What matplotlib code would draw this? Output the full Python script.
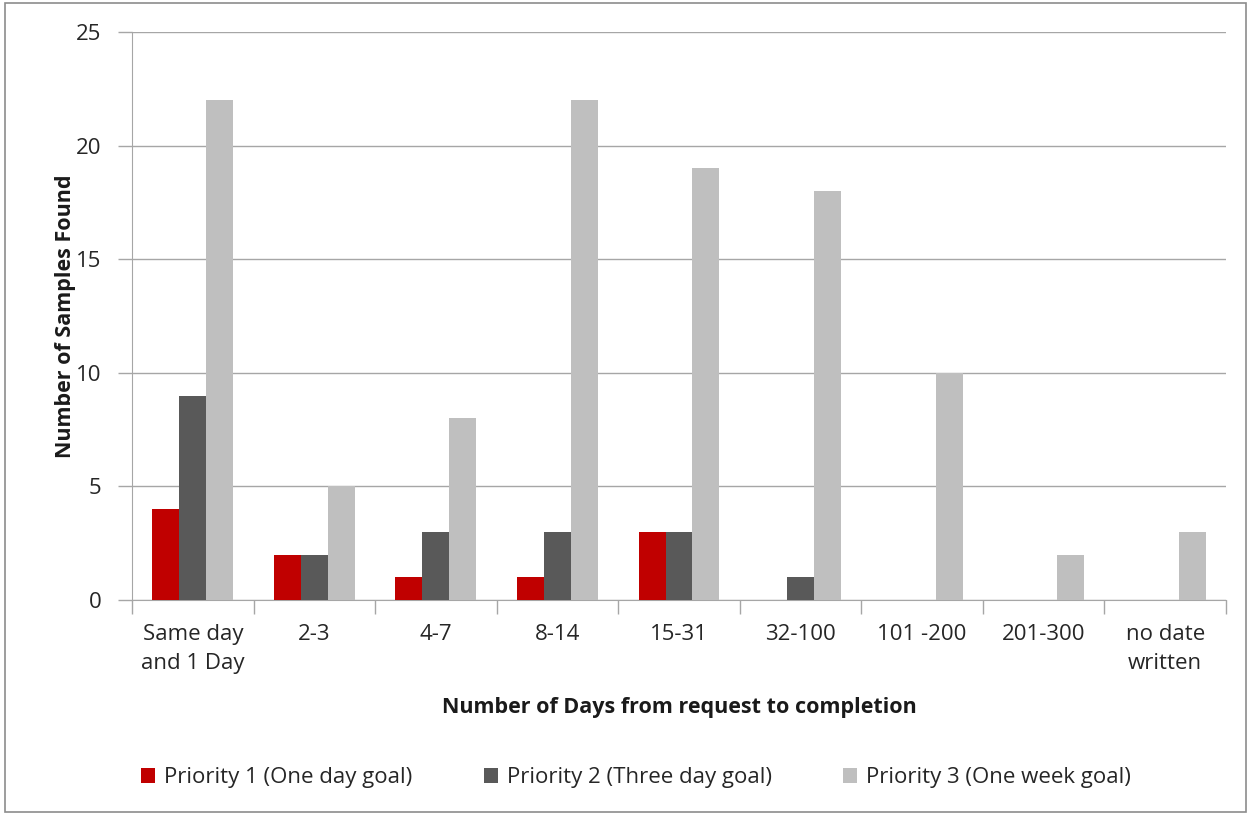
import matplotlib.pyplot as plt
import numpy as np
from matplotlib.patches import Rectangle

plt.rcParams['font.family'] = ['Open Sans', 'DejaVu Sans']

categories = ['Same day\nand 1 Day', '2-3', '4-7', '8-14', '15-31',
              '32-100', '101 -200', '201-300', 'no date\nwritten']
priority1 = [4, 2, 1, 1, 3, 0, 0, 0, 0]
priority2 = [9, 2, 3, 3, 3, 1, 0, 0, 0]
priority3 = [22, 5, 8, 22, 19, 18, 10, 2, 3]
series_names = ['Priority 1 (One day goal)', 'Priority 2 (Three day goal)',
                'Priority 3 (One week goal)']
colors = ['#C00000', '#595959', '#BFBFBF']

fig = plt.figure(figsize=(12.5, 8.16), dpi=100)
ax = fig.add_axes([132 / 1250, 1 - 600 / 816, 1094 / 1250, 568 / 816])

# outer chart border
fig.patches.append(Rectangle((5 / 1250, 4 / 816), 1241 / 1250, 809 / 816,
                             transform=fig.transFigure, fill=False,
                             edgecolor='#8C8C8C', linewidth=1.2))

x = np.arange(len(categories))
w = 0.222
for i, (vals, name, c) in enumerate(zip([priority1, priority2, priority3],
                                        series_names, colors)):
    ax.bar(x + (i - 1) * w, vals, width=w, color=c, label=name, zorder=3)

ax.set_xlim(-0.5, len(categories) - 0.5)
ax.set_ylim(0, 25)
ax.set_yticks(range(0, 26, 5))
ax.yaxis.grid(True, color='#A6A6A6', linewidth=1.0, zorder=0)

ax.set_xticks(np.arange(-0.5, len(categories), 1.0))
ax.set_xticklabels([])
ax.set_xticks(x, minor=True)
ax.set_xticklabels(categories, minor=True, fontsize=16, color='#262626',
                   linespacing=1.55)
ax.tick_params(axis='x', which='major', length=10, color='#A6A6A6', width=1)
ax.tick_params(axis='x', which='minor', length=0, pad=17)
ax.tick_params(axis='y', length=10, color='#A6A6A6', width=1,
               labelsize=16, labelcolor='#262626', pad=12)

for side in ['top', 'right']:
    ax.spines[side].set_visible(False)
ax.spines['left'].set_color('#A6A6A6')
ax.spines['bottom'].set_color('#A6A6A6')

ax.set_ylabel('Number of Samples Found', fontsize=15.5, fontweight='bold',
              color='#1a1a1a', labelpad=0)
ax.set_xlabel('Number of Days from request to completion', fontsize=15.5,
              fontweight='bold', color='#1a1a1a', labelpad=16)

fig.legend(loc='center', bbox_to_anchor=(636 / 1250, 1 - 778 / 816), ncol=3,
           frameon=False, fontsize=16, handlelength=0.65, handleheight=0.65,
           handletextpad=0.4, columnspacing=3.2, labelcolor='#262626')

fig.savefig('out.png', dpi=100)
